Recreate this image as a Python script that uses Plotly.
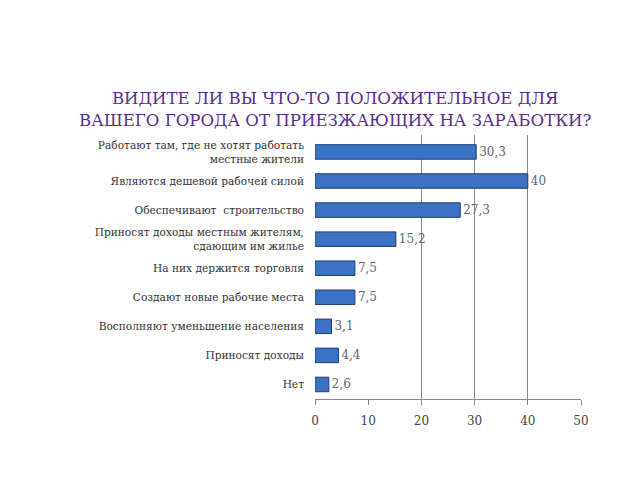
import plotly.graph_objects as go

categories = [
    "Работают там, где не хотят работать<br>местные жители",
    "Являются дешевой рабочей силой",
    "Обеспечивают  строительство",
    "Приносят доходы местным жителям,<br>сдающим им жилье",
    "На них держится торговля",
    "Создают новые рабочие места",
    "Восполняют уменьшение населения",
    "Приносят доходы",
    "Нет",
]
values = [30.3, 40, 27.3, 15.2, 7.5, 7.5, 3.1, 4.4, 2.6]
value_labels = ["30,3", "40", "27,3", "15,2", "7,5", "7,5", "3,1", "4,4", "2,6"]
x_ticks = [0, 10, 20, 30, 40, 50]
grid_ticks = [20, 30, 40, 50]
title_lines = ["ВИДИТЕ ЛИ ВЫ ЧТО-ТО ПОЛОЖИТЕЛЬНОЕ ДЛЯ",
               "ВАШЕГО ГОРОДА ОТ ПРИЕЗЖАЮЩИХ НА ЗАРАБОТКИ?"]

serif = "DejaVu Serif"

# page has an 8px body offset
L, R, T, B = 307, 67, 127, 89

fig = go.Figure()
fig.add_trace(go.Bar(
    y=categories, x=values, orientation="h",
    marker=dict(color="#3b72c4", line=dict(color="#1f3f73", width=1)),
    text=value_labels, textposition="outside", cliponaxis=False,
    textfont=dict(family=serif, size=12, color="#666666"),
))
fig.add_trace(go.Scatter(x=[0, 50], y=[categories[0], categories[0]],
                         xaxis="x2", mode="markers",
                         marker=dict(opacity=0), showlegend=False, hoverinfo="skip"))

fig.update_layout(
    width=640, height=480,
    font=dict(family=serif),
    paper_bgcolor="white", plot_bgcolor="white",
    margin=dict(l=L, r=R, t=T, b=B, autoexpand=False),
    showlegend=False,
    bargap=0.5,
    xaxis=dict(range=[0, 50], tickvals=x_ticks, showgrid=False, automargin=False,
               showline=True, linecolor="#888888", linewidth=1,
               ticks="outside", ticklen=5, tickcolor="#888888",
               ticklabelstandoff=6,
               tickfont=dict(family=serif, size=12, color="#444444"),
               zeroline=False),
    xaxis2=dict(range=[0, 50], overlaying="x", tickvals=grid_ticks, automargin=False,
                showticklabels=False, showgrid=True, gridcolor="#888888",
                gridwidth=1, zeroline=False, side="bottom"),
    yaxis=dict(autorange="reversed", showgrid=False, showline=False, automargin=False,
               ticks="", ticklabelstandoff=10,
               tickfont=dict(family=serif, size=10.6, color="#333333")),
    annotations=[dict(
        text=title_lines[0] + "<br>" + title_lines[1],
        xref="paper", yref="paper",
        x=(327 - L) / (640 - L - R), y=(480 - B - 101) / (480 - T - B),
        xanchor="center", yanchor="middle",
        font=dict(family=serif, size=16.6, color="#5b2c8f"),
        showarrow=False, align="center")],
)

fig.write_html("out.html")
